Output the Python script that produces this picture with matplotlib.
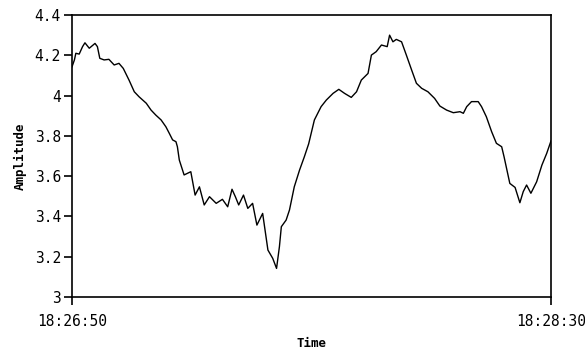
import matplotlib
matplotlib.use("Agg")
import matplotlib.pyplot as plt

# seconds after 18:26:50
seconds = [0, 0.5, 0.8, 1.5, 2.2, 2.7, 3.6, 4.8, 5.3, 5.8, 6.7, 7.7, 8.8, 9.8,
           10.7, 11.9, 13.0, 14.0, 15.5, 16.5, 17.5, 18.6, 19.6, 20.3, 21.0,
           21.7, 22.0, 22.4, 23.4, 24.8, 25.7, 26.6, 27.6, 28.7, 30.1, 31.4,
           32.5, 33.4, 34.1, 34.8, 35.8, 36.7, 37.7, 38.6, 39.8, 40.9, 41.9,
           42.7, 43.3, 43.7, 44.7, 45.4, 46.4, 47.5, 48.5, 49.4, 50.6, 52.0,
           53.1, 54.5, 55.7, 56.9, 58.3, 59.4, 60.4, 61.8, 62.5, 63.5, 64.6,
           65.8, 66.3, 67.0, 67.7, 68.8, 69.8, 70.9, 71.9, 73.0, 74.3, 75.7,
           76.8, 78.2, 79.6, 81.0, 81.7, 82.4, 83.4, 84.8, 85.5, 86.5, 87.6,
           88.6, 89.7, 90.2, 91.4, 92.5, 93.5, 94.2, 94.9, 95.8, 97.0, 98.1,
           99.1, 100]
amplitude = [4.143, 4.177, 4.21, 4.206, 4.243, 4.262, 4.235, 4.259, 4.243,
             4.185, 4.177, 4.18, 4.152, 4.16, 4.135, 4.077, 4.019, 3.994,
             3.962, 3.928, 3.903, 3.879, 3.845, 3.813, 3.78, 3.771, 3.746,
             3.68, 3.606, 3.622, 3.506, 3.547, 3.457, 3.498, 3.465, 3.485,
             3.448, 3.535, 3.498, 3.457, 3.506, 3.44, 3.465, 3.357, 3.415,
             3.233, 3.192, 3.142, 3.25, 3.349, 3.382, 3.432, 3.547, 3.63,
             3.696, 3.76, 3.879, 3.945, 3.978, 4.011, 4.031, 4.011, 3.991,
             4.019, 4.077, 4.11, 4.201, 4.218, 4.251, 4.243, 4.3, 4.267,
             4.279, 4.267, 4.201, 4.127, 4.061, 4.036, 4.019, 3.986, 3.948,
             3.928, 3.915, 3.92, 3.912, 3.945, 3.97, 3.97, 3.945, 3.895,
             3.821, 3.763, 3.746, 3.696, 3.564, 3.544, 3.468, 3.523, 3.556,
             3.515, 3.572, 3.655, 3.713, 3.775]

x_ticks = [0, 100]
x_tick_labels = ["18:26:50", "18:28:30"]
y_ticks = [3, 3.2, 3.4, 3.6, 3.8, 4, 4.2, 4.4]
y_tick_labels = ["3", "3.2", "3.4", "3.6", "3.8", "4", "4.2", "4.4"]

plt.rcParams["font.family"] = "DejaVu Sans Mono"

fig = plt.figure(figsize=(5.85, 3.54), dpi=100)
ax = fig.add_axes([0.1231, 0.161, 0.8188, 0.7966])

ax.plot(seconds, amplitude, color="black", linewidth=1.0)

ax.set_xlim(0, 100)
ax.set_ylim(3, 4.4)
ax.set_xticks(x_ticks)
ax.set_xticklabels(x_tick_labels, fontsize=10.5)
ax.set_yticks(y_ticks)
ax.set_yticklabels(y_tick_labels, fontsize=10.5)
ax.tick_params(axis="both", direction="out", length=6, width=1.2,
               color="black", pad=2)
ax.tick_params(axis="x", pad=6)

for s in ax.spines.values():
    s.set_linewidth(1.2)
    s.set_color("black")

ax.set_xlabel("Time", fontsize=9, fontweight="bold", labelpad=6)
ax.set_ylabel("Amplitude", fontsize=9, fontweight="bold", labelpad=6)

fig.savefig("out.png", dpi=100)
